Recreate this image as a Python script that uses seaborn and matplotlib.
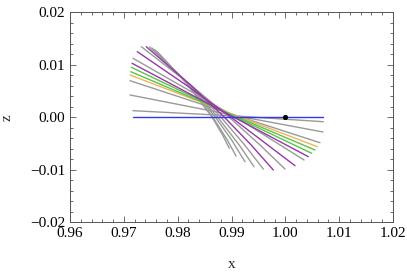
import numpy as np
import pandas as pd
import seaborn as sns
import matplotlib
matplotlib.use("Agg")
import matplotlib.pyplot as plt
from matplotlib.ticker import MultipleLocator

# curves, ordered from flattest to steepest
curve_x = [
    [0.9717, 1.0070],
    [0.9717, 0.9914, 1.00706],
    [0.97115, 0.9914, 1.0070],
    [0.97115, 0.9914, 1.00644],
    [0.97115, 1.00594],
    [0.97128, 1.00551],
    [0.97139, 1.00490],
    [0.97152, 1.00427],
    [0.97170, 0.99084, 1.00347],
    [0.97250, 0.98155, 0.98995, 1.00180],
    [0.97325, 0.98242, 0.98959, 0.99530, 0.99994],
    [0.97417, 0.98240, 0.98870, 0.99366, 0.99777],
    [0.97477, 0.98231, 0.98805, 0.99245, 0.99591],
    [0.97523, 0.98216, 0.98746, 0.99143, 0.99418],
    [0.97570, 0.98207, 0.98703, 0.99002, 0.99251],
    [0.97616, 0.98194, 0.98655, 0.98922, 0.99084],
    [0.97653, 0.98192, 0.98640, 0.98835, 0.98959],
]
curve_z = [
    [0.0, 0.0],
    [0.00126, 0.00021, -0.00084],
    [0.00425, 0.00019, -0.0028],
    [0.00697, 0.00015, -0.00484],
    [0.00806, -0.0056],
    [0.00869, -0.00623],
    [0.00952, -0.00686],
    [0.01029, -0.0075],
    [0.01124, 0.0, -0.00813],
    [0.0125, 0.00615, 0.0, -0.00922],
    [0.01345, 0.00615, 0.0, -0.00528, -0.00985],
    [0.01345, 0.00615, 0.0, -0.00528, -0.01004],
    [0.01339, 0.00615, 0.0, -0.00528, -0.00985],
    [0.0132, 0.00615, 0.0, -0.00528, -0.00941],
    [0.01291, 0.00615, 0.0, -0.00432, -0.00846],
    [0.01253, 0.00615, 0.0, -0.00432, -0.00737],
    [0.01206, 0.00615, 0.0, -0.00337, -0.0059],
]
curve_kind = ['blue', 'gray', 'gray', 'gray', 'orange', 'green', 'green', 'purple',
              'gray', 'purple', 'gray', 'purple', 'gray', 'gray', 'gray', 'gray', 'gray']
kind_color = {'gray': '#9a9a9a', 'purple': '#9438a6', 'green': '#5cc24a',
              'orange': '#f2b45a', 'blue': '#3535f0'}
draw_order = ['gray', 'orange', 'green', 'purple', 'blue']

point_x = [1.0]
point_z = [0.0]

x_ticks = [0.96, 0.97, 0.98, 0.99, 1.00, 1.01, 1.02]
z_ticks = [-0.02, -0.01, 0.00, 0.01, 0.02]

sns.set_style("ticks")
plt.rcParams['font.family'] = ['Liberation Serif', 'DejaVu Serif']

fig = plt.figure(figsize=(4.07, 2.75), dpi=100)
ax = fig.add_axes([0.172, 0.1916, 0.7936, 0.7637])

rows = []
for i, (xs, zs) in enumerate(zip(curve_x, curve_z)):
    for xv, zv in zip(xs, zs):
        rows.append({'curve': i, 'kind': curve_kind[i], 'x': xv, 'z': zv})
df = pd.DataFrame(rows)

for kind in draw_order:
    sub = df[df['kind'] == kind]
    if sub.empty:
        continue
    sns.lineplot(data=sub, x='x', y='z', units='curve', estimator=None, sort=False,
                 color=kind_color[kind], lw=1.0, ax=ax, legend=False)

sns.scatterplot(x=point_x, y=point_z, color='black', s=14, edgecolor='black',
                linewidth=0, zorder=5, ax=ax)

ax.set_xlim(0.96, 1.02)
ax.set_ylim(-0.02, 0.02)
ax.set_xticks(x_ticks)
ax.set_yticks(z_ticks)
ax.set_xticklabels([f"{v:.2f}" for v in x_ticks])
ax.set_yticklabels([f"{v:.2f}".replace('-', '\u2212') for v in z_ticks])
ax.xaxis.set_minor_locator(MultipleLocator(0.002))
ax.yaxis.set_minor_locator(MultipleLocator(0.002))
ax.tick_params(which='both', direction='in', top=True, right=True, colors='#555555',
               labelcolor='black', labelsize=11, width=0.6)
ax.tick_params(which='major', length=4)
ax.tick_params(which='minor', length=2)
for sp in ax.spines.values():
    sp.set_color('#555555')
    sp.set_linewidth(0.7)

ax.set_xlabel('x', fontsize=11, labelpad=13)
ax.set_ylabel('z', fontsize=11, labelpad=12)

fig.savefig('out.png', dpi=100)
